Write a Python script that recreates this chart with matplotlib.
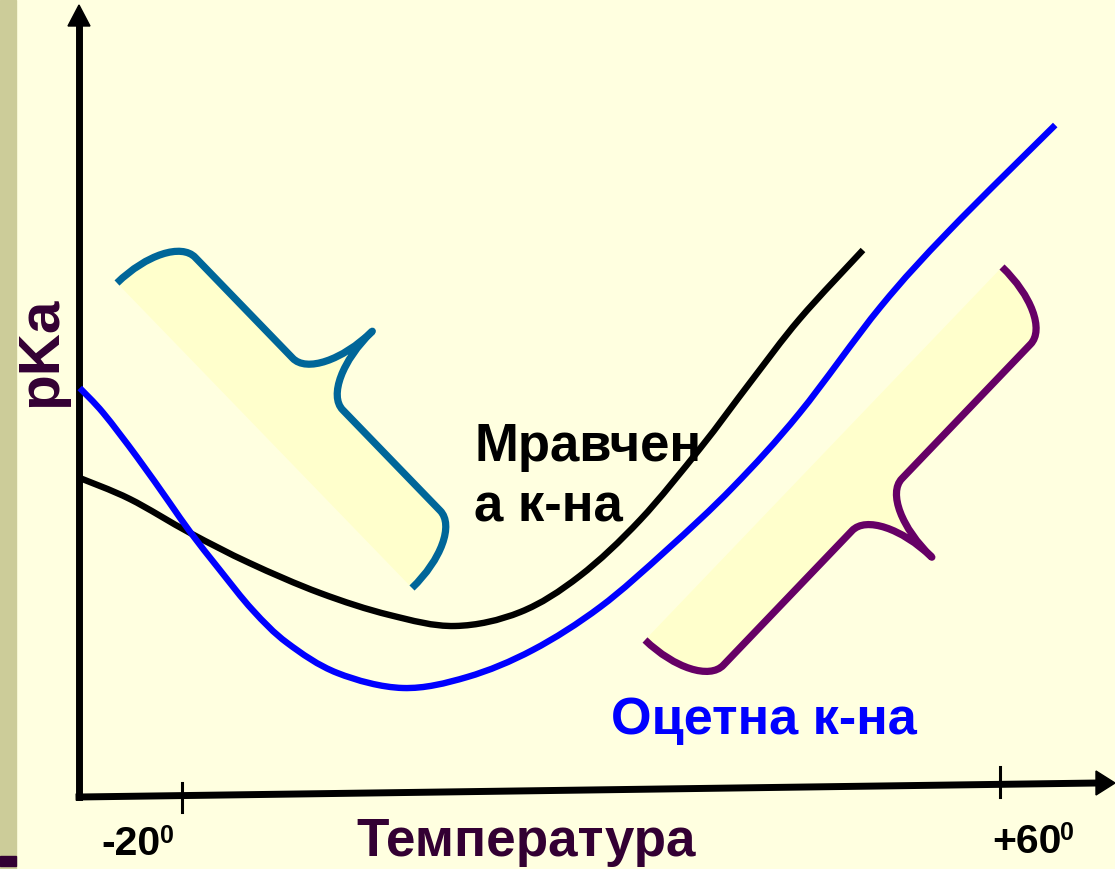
import numpy as np
import matplotlib
matplotlib.use("Agg")
import matplotlib.pyplot as plt
from matplotlib.path import Path
from matplotlib.patches import PathPatch, Rectangle, Polygon
from matplotlib.transforms import Affine2D

# ---- data: pKa (relative units) against temperature, °C ----
formic_t = [-30.0, -25.1, -19.2, -13.4, -6.5, 0.3, 6.7, 13.1, 18.9,
            24.8, 30.7, 35.6, 40.4, 46.6]
formic_pka = [3.22, 3.01, 2.67, 2.37, 2.07, 1.85, 1.74, 1.88, 2.24,
              2.80, 3.52, 4.18, 4.81, 5.50]

acetic_t = [-30.0, -27.7, -24.4, -21.2, -19.2, -16.3, -13.1, -9.7, -4.8, 1.6,
            7.9, 14.3, 20.9, 27.4, 33.9, 40.4, 48.3, 55.1, 65.4]
acetic_pka = [4.12, 3.87, 3.43, 2.97, 2.68, 2.30, 1.90, 1.57, 1.27, 1.12,
              1.23, 1.50, 1.93, 2.50, 3.13, 3.87, 4.93, 5.70, 6.75]

tick_temps = [-20, 60]
tick_labels = ["-20", "+60"]
x_title = "Температура"
y_title = "pKa"
formic_label = ["Мравчен", "а к-на"]
acetic_label = "Оцетна к-на"

# ---- canvas ----
W, H = 1115, 869
BG = "#FFFFE0"
fig = plt.figure(figsize=(W / 100, H / 100), dpi=100, facecolor=BG)
ax = fig.add_axes([0, 0, 1, 1])
ax.set_facecolor(BG)
ax.axis("off")

# temperature scale: -20° sits at 182 px, 10.225 px per degree
PX_M20, PX_PER_DEG = 182.0, 10.225
def temp_at(px):
    return -20 + (px - PX_M20) / PX_PER_DEG
def val_at(py):
    return (800.0 - py) / 100.0
ax.set_xlim(temp_at(0), temp_at(W))
ax.set_ylim(val_at(H), val_at(0))

# pixel-space transform (origin top-left) for the decorations
pix = Affine2D().scale(1 / W, -1 / H).translate(0, 1) + ax.transAxes

# side bar of the slide
ax.add_patch(Rectangle((0, 0), 16, H, transform=pix, color="#CCCC99", zorder=0))
ax.add_patch(Rectangle((0, 856), 16, 10, transform=pix, color="#330033", zorder=0))


def brace(a, b, h=74.0, tip=150.0, r=36.0):
    """Curly brace from a to b (pixel coords), bulging to the left of a->b."""
    a = np.asarray(a, float)
    b = np.asarray(b, float)
    d = b - a
    L = np.hypot(*d)
    u = d / L
    n = np.array([u[1], -u[0]])
    k = 0.5523
    m = L / 2
    loc = [(0, 0),
           (0, k * h), (r - k * r, h), (r, h),
           (m - r, h),
           (m - r + k * r, h), (m, tip - k * (tip - h)), (m, tip),
           (m, tip - k * (tip - h)), (m + r - k * r, h), (m + r, h),
           (L - r, h),
           (L - r + k * r, h), (L, k * h), (L, 0)]
    codes = ([Path.MOVETO] + [Path.CURVE4] * 3 + [Path.LINETO] + [Path.CURVE4] * 6
             + [Path.LINETO] + [Path.CURVE4] * 3)
    verts = np.array([a + s * u + t * n for s, t in loc])
    return verts, codes


for a, b, col in [((117, 283), (412, 588), "#006699"),
                  ((1002, 267), (645, 640), "#660066")]:
    v, c = brace(a, b)
    fill = Path(np.vstack([v, v[:1]]), c + [Path.LINETO])
    ax.add_patch(PathPatch(fill, transform=pix, facecolor="#FFFFCC",
                           edgecolor="none", zorder=1))
    ax.add_patch(PathPatch(Path(v, c), transform=pix, facecolor="none",
                           edgecolor=col, lw=5.2, joinstyle="round",
                           capstyle="butt", zorder=2))

# axes with arrowheads
AX_LW = 5.0
ax.plot([79, 79], [797, 22], transform=pix, color="black", lw=AX_LW,
        solid_capstyle="projecting", zorder=3)
ax.add_patch(Polygon([(68, 26), (90, 26), (79, 5)], closed=True, transform=pix,
                     color="black", zorder=3))
ax.plot([79, 1098], [797, 783], transform=pix, color="black", lw=AX_LW,
        solid_capstyle="projecting", zorder=3)
ax.add_patch(Polygon([(1096, 771), (1096, 795), (1115, 783)], closed=True,
                     transform=pix, color="black", zorder=3))

# tick marks on the temperature axis
for t, (top, bot) in zip(tick_temps, [(783, 812), (767, 797)]):
    ax.plot([t, t], [val_at(top), val_at(bot)], color="black", lw=2.2, zorder=3)


def smooth_path(xs, ys):
    """Smooth curve through the given points (Catmull-Rom as cubic Bezier)."""
    p = np.column_stack([xs, ys]).astype(float)
    ext = np.vstack([p[0], p, p[-1]])
    verts = [p[0]]
    codes = [Path.MOVETO]
    for i in range(1, len(ext) - 2):
        p0, p1, p2, p3 = ext[i - 1], ext[i], ext[i + 1], ext[i + 2]
        verts += [p1 + (p2 - p0) / 6, p2 - (p3 - p1) / 6, p2]
        codes += [Path.CURVE4] * 3
    return Path(np.array(verts), codes)


for xs, ys, col in [(formic_t, formic_pka, "black"),
                    (acetic_t, acetic_pka, "#0000FF")]:
    ax.add_patch(PathPatch(smooth_path(xs, ys), transform=ax.transData,
                           facecolor="none", edgecolor=col, lw=4.6,
                           capstyle="butt", joinstyle="round", zorder=4))

FONT = "Liberation Sans"
# tick labels with degree-like superscript
for (x, y, sx, sy), lab in zip([(101, 855, 160, 843), (992, 853, 1060, 840)], tick_labels):
    ax.text(x, y, lab, transform=pix, family=FONT, weight="bold", size=29.5,
            color="black", ha="left", va="baseline", zorder=5)
    ax.text(sx, sy, "0", transform=pix, family=FONT, weight="bold", size=18,
            color="black", ha="left", va="baseline", zorder=5)

ax.text(356, 856, x_title, transform=pix, family=FONT, weight="bold", size=38.2,
        color="#330033", ha="left", va="baseline", zorder=5)
ax.text(56, 352, y_title, transform=pix, family=FONT, weight="bold", size=42,
        color="#330033", rotation=90, rotation_mode="anchor",
        ha="center", va="baseline", zorder=5)

ax.text(474, 461, formic_label[0], transform=pix, family=FONT, weight="bold",
        size=38, color="black", ha="left", va="baseline", zorder=5)
ax.text(474, 521, formic_label[1], transform=pix, family=FONT, weight="bold",
        size=38, color="black", ha="left", va="baseline", zorder=5)
ax.text(611, 734, acetic_label, transform=pix, family=FONT, weight="bold",
        size=37.6, color="#0000FF", ha="left", va="baseline", zorder=5)

fig.savefig("out.png", dpi=100, facecolor=BG)
